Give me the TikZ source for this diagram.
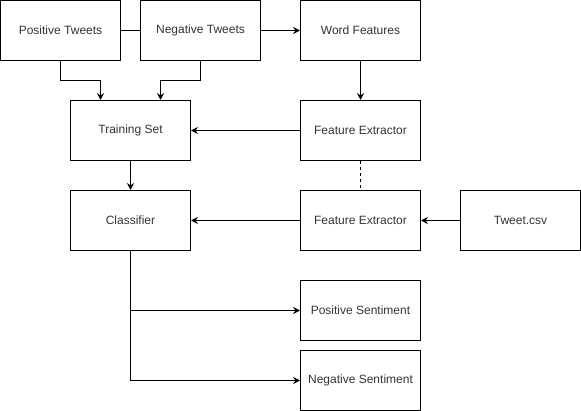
\documentclass[tikz,border=0pt]{standalone}
\usepackage{fontspec}
\setmainfont{Liberation Sans}
\usetikzlibrary{arrows.meta}
\begin{document}
\begin{tikzpicture}[x=1pt,y=-1pt,
  box/.style={draw,line width=1pt,minimum width=120pt,minimum height=60pt,inner sep=0pt,font=\fontsize{12}{14}\selectfont,text=black!80},
  conn/.style={line width=1pt},
  arr/.style={conn,-{Stealth[length=7pt,width=7pt,inset=2.5pt]}}]
\useasboundingbox (0,0) rectangle (581,411);
\node[box] (pt) at (60.5,30.5) {Positive Tweets};
\node[box] (nt) at (200.5,30.5) {Negative Tweets};
\node[box] (wf) at (360.5,30.5) {Word Features};
\node[box] (ts) at (130.5,130.5) {Training Set};
\node[box] (fe1) at (360.5,130.5) {Feature Extractor};
\node[box] (cl) at (130.5,220.5) {Classifier};
\node[box] (fe2) at (360.5,220.5) {Feature Extractor};
\node[box] (tc) at (520.5,220.5) {Tweet.csv};
\node[box] (ps) at (360.5,310.5) {Positive Sentiment};
\node[box] (ns) at (360.5,380.5) {Negative Sentiment};
\coordinate (j1) at (100.5,80.5);
\coordinate (j2) at (160.5,80.5);
\draw[conn] (pt) -- (nt);
\draw[arr] (nt) -- (wf);
\draw[arr] (pt.south) |- (j1) -- (ts.north -| j1);
\draw[arr] (nt.south) |- (j2) -- (ts.north -| j2);
\draw[arr] (wf) -- (fe1);
\draw[arr] (fe1) -- (ts);
\draw[conn,dash pattern=on 3pt off 3pt] (fe1) -- (fe2);
\draw[arr] (ts) -- (cl);
\draw[arr] (fe2) -- (cl);
\draw[arr] (tc) -- (fe2);
\draw[arr] (cl.south) |- (ps.west);
\draw[arr] (cl.south) |- (ns.west);
\end{tikzpicture}
\end{document}
